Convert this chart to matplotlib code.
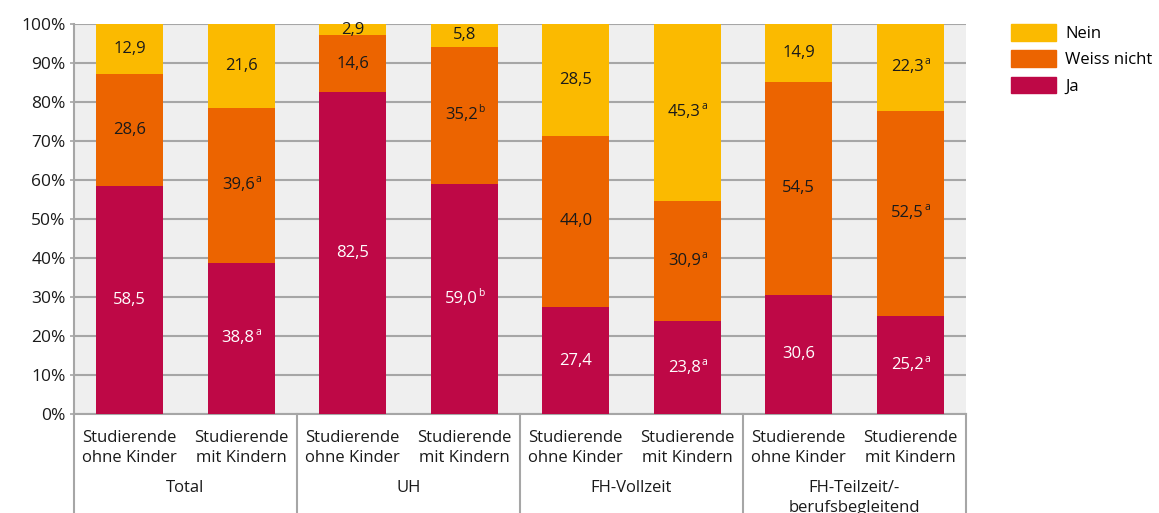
import matplotlib.pyplot as plt
from matplotlib.patches import Patch
from matplotlib.lines import Line2D
import matplotlib.transforms as mtransforms
import numpy as np

plt.rcParams['font.family'] = ['Open Sans', 'DejaVu Sans']

bar_labels = ['Studierende\nohne Kinder', 'Studierende\nmit Kindern'] * 4
groups = ['Total', 'UH', 'FH-Vollzeit', 'FH-Teilzeit/-\nberufsbegleitend']

ja = [58.5, 38.8, 82.5, 59.0, 27.4, 23.8, 30.6, 25.2]
weiss = [28.6, 39.6, 14.6, 35.2, 44.0, 30.9, 54.5, 52.5]
nein = [12.9, 21.6, 2.9, 5.8, 28.5, 45.3, 14.9, 22.3]

ja_sup = ['', 'a', '', 'b', '', 'a', '', 'a']
weiss_sup = ['', 'a', '', 'b', '', 'a', '', 'a']
nein_sup = ['', '', '', '', '', 'a', '', 'a']

c_ja = '#BE0846'
c_weiss = '#EC6400'
c_nein = '#FBBA00'

fig = plt.figure(figsize=(11.59, 5.13), dpi=100)
ax = fig.add_axes([74/1159, 99/513, 892/1159, 390/513])
ax.set_facecolor('#EFEFEF')

x = np.arange(len(ja))
w = 0.6
ja_a = np.array(ja)
weiss_a = np.array(weiss)
nein_a = np.array(nein)

ax.bar(x, ja_a, w, color=c_ja, zorder=3)
ax.bar(x, weiss_a, w, bottom=ja_a, color=c_weiss, zorder=3)
ax.bar(x, nein_a, w, bottom=ja_a + weiss_a, color=c_nein, zorder=3)


def label(xp, yp, v, s, col):
    t = ('%.1f' % v).replace('.', ',')
    off = -2.2 if s else 0
    txt = ax.annotate(t, (xp, yp), xytext=(off, 0), textcoords='offset points',
                      ha='center', va='center', color=col, fontsize=12, zorder=4)
    if s:
        ax.annotate(s, xy=(1, 0.5), xycoords=txt, xytext=(0.5, 0), textcoords='offset points',
                    ha='left', va='bottom', color=col, fontsize=7.5, zorder=4)


for i in range(len(ja)):
    label(x[i], ja[i] / 2, ja[i], ja_sup[i], 'white')
    label(x[i], ja[i] + weiss[i] / 2, weiss[i], weiss_sup[i], '#1a1a1a')
    label(x[i], ja[i] + weiss[i] + nein[i] / 2, nein[i], nein_sup[i], '#1a1a1a')

ax.set_xlim(-0.5, 7.5)
ax.set_ylim(0, 100)
ax.set_yticks(range(0, 101, 10))
ax.set_yticklabels(['%d%%' % v for v in range(0, 101, 10)], fontsize=12.5, color='#1a1a1a')
ax.set_xticks([])
ax.yaxis.grid(True, color='#A6A6A6', linewidth=1.5, zorder=1)
ax.tick_params(axis='y', length=3, color='#A6A6A6', width=1.2, pad=3)
for s in ['top', 'right']:
    ax.spines[s].set_visible(False)
for s in ['left', 'bottom']:
    ax.spines[s].set_color('#A6A6A6')
    ax.spines[s].set_linewidth(1.5)

trans = mtransforms.blended_transform_factory(ax.transData, ax.transAxes)
for i in range(len(ja)):
    ax.text(x[i], -0.088, bar_labels[i], transform=trans, ha='center', va='center',
            fontsize=12, color='#1a1a1a', linespacing=1.35)
for g in range(len(groups)):
    ax.text(2 * g + 0.5, -0.17, groups[g], transform=trans, ha='center', va='top',
            fontsize=12, color='#1a1a1a', linespacing=1.35)
for b in range(len(groups) + 1):
    ax.add_line(Line2D([2 * b - 0.5, 2 * b - 0.5], [0, -0.26], transform=trans,
                       color='#A6A6A6', linewidth=1.5, clip_on=False))

handles = [Patch(color=c_nein, label='Nein'), Patch(color=c_weiss, label='Weiss nicht'),
           Patch(color=c_ja, label='Ja')]
fig.legend(handles=handles, loc='upper left', bbox_to_anchor=(1011/1159, 1 - 24/513),
           frameon=False, fontsize=12, handlelength=2.7, handleheight=1.15,
           handletextpad=0.55, labelspacing=0.5, borderaxespad=0, borderpad=0)

fig.savefig('out.png', dpi=100)
